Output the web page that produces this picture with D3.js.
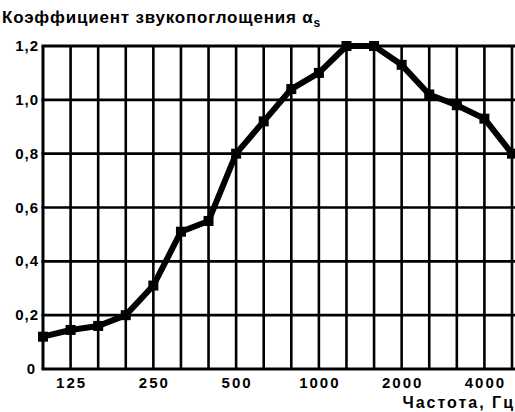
<!DOCTYPE html>
<html><head><meta charset="utf-8">
<script src="https://cdn.jsdelivr.net/npm/d3@7"></script>
<style>body{margin:0;background:#fff}svg{display:block}text{font-family:"Liberation Sans",Arial,sans-serif;font-weight:bold;fill:#000}</style>
</head><body>
<script>
const bands = [100,125,160,200,250,315,400,500,630,800,1000,1250,1600,2000,2500,3150,4000,5000];
const alpha = [0.12,0.145,0.16,0.20,0.31,0.51,0.55,0.80,0.92,1.04,1.10,1.20,1.20,1.13,1.02,0.98,0.93,0.80];
const xTickLabels = [125,250,500,1000,2000,4000];
const yTicks = [0,0.2,0.4,0.6,0.8,1.0,1.2];
const titleText = "Коэффициент звукопоглощения α";
const xTitle = "Частота, Гц";

const W=515,H=412;
const svg=d3.select("body").append("svg").attr("width",W).attr("height",H);
const x=d3.scalePoint().domain(bands).range([43,512]);
const y=d3.scaleLinear().domain([0,1.2]).range([369,46]);

// grid
const g=svg.append("g");
g.selectAll("line.v").data(bands).join("line")
 .attr("x1",d=>x(d)).attr("x2",d=>x(d)).attr("y1",y(1.2)).attr("y2",y(0))
 .attr("stroke","#000").attr("stroke-width",(d,i)=>i===0?3:2.6);
g.selectAll("line.h").data(yTicks).join("line")
 .attr("x1",x(100)-1.5).attr("x2",W).attr("y1",d=>y(d)).attr("y2",d=>y(d))
 .attr("stroke","#000").attr("stroke-width",(d)=>d===0||d===1.2?3.2:2.6);

// y labels
const fmt=d=>d===0?"0":d3.format(".1f")(d).replace(".",",");
svg.selectAll("text.yl").data(yTicks).join("text")
 .attr("x",d=>d===0?36:39).attr("y",d=>y(d)+5).attr("text-anchor","end")
 .attr("font-size",15).attr("letter-spacing",1).text(fmt);
// x labels
svg.selectAll("text.xl").data(xTickLabels).join("text")
 .attr("x",d=>x(d)+1).attr("y",388).attr("text-anchor","middle")
 .attr("font-size",15).attr("letter-spacing",2).text(d=>d);
svg.append("text").attr("x",515).attr("y",408).attr("text-anchor","end")
 .attr("font-size",16).attr("letter-spacing",2).text(xTitle);
// title
const t=svg.append("text").attr("x",2).attr("y",23).attr("font-size",17).attr("letter-spacing",0.8);
t.append("tspan").text(titleText);
t.append("tspan").attr("font-size",12).attr("dy",4).text("s");

// curve
const line=d3.line().x((d,i)=>x(bands[i])).y(d=>y(d));
svg.append("path").datum(alpha).attr("d",line).attr("fill","none")
 .attr("stroke","#000").attr("stroke-width",6).attr("stroke-linejoin","round");
svg.selectAll("rect.m").data(alpha).join("rect")
 .attr("x",(d,i)=>x(bands[i])-5).attr("y",d=>y(d)-5).attr("width",10).attr("height",10).attr("fill","#000");
</script>
</body></html>
